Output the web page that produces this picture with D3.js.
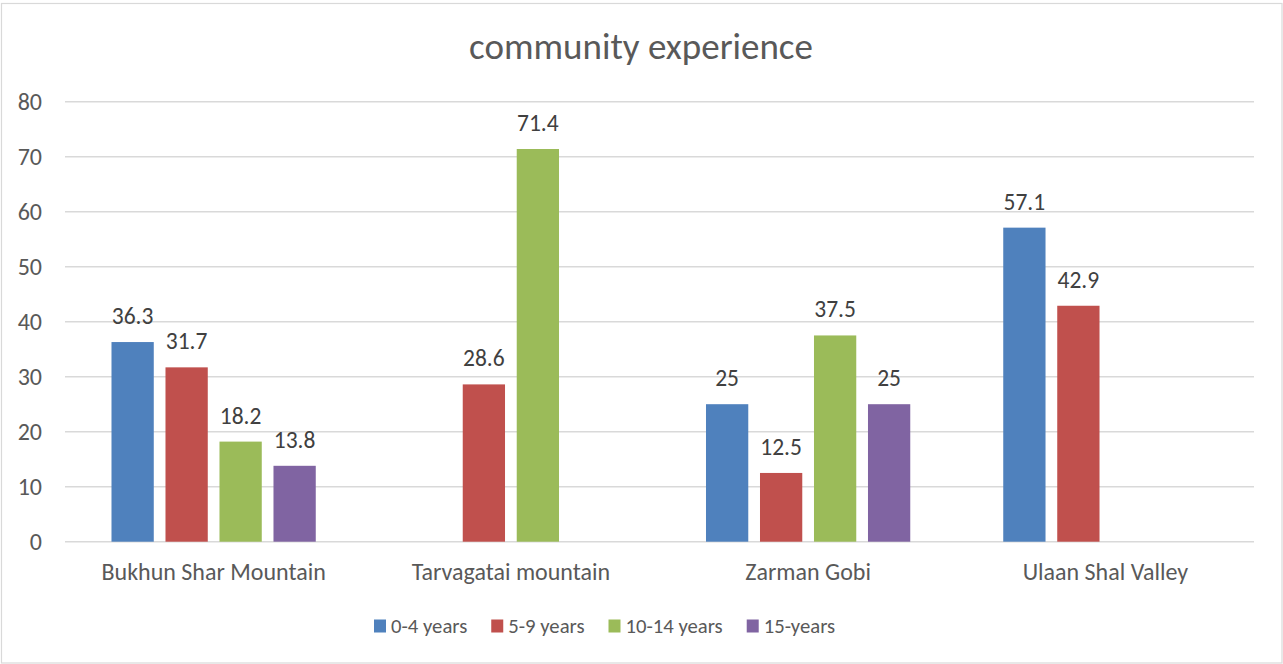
<!DOCTYPE html>
<html>
<head>
<meta charset="utf-8">
<script src="https://cdn.jsdelivr.net/npm/d3@7"></script>
<style>
  html, body { margin: 0; padding: 0; background: #fff; }
  svg { display: block; font-family: Carlito, "Open Sans", sans-serif; }
</style>
</head>
<body>
<svg id="chart" width="1283" height="664"></svg>
<script>
// Data
const categories = ["Bukhun Shar Mountain", "Tarvagatai mountain", "Zarman Gobi", "Ulaan Shal Valley"];
const seriesNames = ["0-4 years", "5-9 years", "10-14 years", "15-years"];
const seriesColors = ["#4F81BD", "#C0504D", "#9BBB59", "#8064A2"];
// one array per series, aligned with categories (null = no bar)
const years0to4   = [36.3, null, 25,   57.1];
const years5to9   = [31.7, 28.6, 12.5, 42.9];
const years10to14 = [18.2, 71.4, 37.5, null];
const years15plus = [13.8, null, 25,   null];
const yTicks = [0, 10, 20, 30, 40, 50, 60, 70, 80];
const chartTitle = "community experience";

const seriesValues = [years0to4, years5to9, years10to14, years15plus];

const FONT = 'Carlito, "Open Sans", sans-serif';
const svg = d3.select("#chart");
const W = 1283, H = 664;
const plot = { left: 65, right: 1254, top: 101.7, bottom: 541.7 };

// outer frame
svg.append("rect")
  .attr("x", 1.5).attr("y", 3.5)
  .attr("width", W - 2.5).attr("height", H - 4.5)
  .attr("fill", "#fff").attr("stroke", "#d9d9d9").attr("stroke-width", 1.2);

// title
svg.append("text")
  .attr("x", 641).attr("y", 59)
  .attr("text-anchor", "middle")
  .attr("font-size", 37)
  .attr("fill", "#595959")
  .text(chartTitle);

const y = d3.scaleLinear().domain([0, 80]).range([plot.bottom, plot.top]);
const x0 = d3.scaleBand().domain(categories).range([plot.left, plot.right]).padding(0);
const x1 = d3.scaleBand().domain(seriesNames).range([0, x0.bandwidth()])
  .paddingInner(0.217).paddingOuter(0.861);

// gridlines
svg.append("g")
  .selectAll("line")
  .data(yTicks)
  .join("line")
  .attr("x1", plot.left).attr("x2", plot.right)
  .attr("y1", d => y(d)).attr("y2", d => y(d))
  .attr("stroke", "#d9d9d9").attr("stroke-width", 1.5);

// y axis labels
const yAxis = d3.axisLeft(y).tickValues(yTicks).tickSize(0).tickPadding(0);
const yg = svg.append("g").attr("transform", `translate(42,0)`).call(yAxis);
yg.select(".domain").remove();
yg.selectAll("text")
  .attr("font-size", 24).attr("fill", "#595959")
  .attr("font-family", FONT)
  .attr("dy", "0.34em");

// x axis category labels
const xAxis = d3.axisBottom(x0).tickSize(0).tickPadding(0);
const xg = svg.append("g").attr("transform", `translate(0,${plot.bottom})`).call(xAxis);
xg.select(".domain").remove();
xg.selectAll("text")
  .attr("font-size", 24).attr("fill", "#595959")
  .attr("font-family", FONT)
  .attr("dy", null)
  .attr("y", 38.5);

// bars
const flat = [];
categories.forEach((c, ci) => {
  seriesNames.forEach((s, si) => {
    const v = seriesValues[si][ci];
    if (v !== null) flat.push({ cat: c, series: s, si, value: v });
  });
});

const groups = svg.append("g");
groups.selectAll("rect")
  .data(flat)
  .join("rect")
  .attr("x", d => x0(d.cat) + x1(d.series))
  .attr("y", d => y(d.value))
  .attr("width", x1.bandwidth())
  .attr("height", d => y(0) - y(d.value))
  .attr("fill", d => seriesColors[d.si]);

// value labels
groups.selectAll("text")
  .data(flat)
  .join("text")
  .attr("x", d => x0(d.cat) + x1(d.series) + x1.bandwidth() / 2)
  .attr("y", d => y(d.value) - 18)
  .attr("text-anchor", "middle")
  .attr("font-size", 23.5)
  .attr("fill", "#404040")
  .text(d => d.value);

// legend
const legend = svg.append("g");
const legendY = 626;
let lx = 374;
seriesNames.forEach((s, i) => {
  const g = legend.append("g");
  g.append("rect")
    .attr("x", lx).attr("y", legendY - 6.5)
    .attr("width", 12).attr("height", 13)
    .attr("fill", seriesColors[i]);
  const t = g.append("text")
    .attr("x", lx + 17).attr("y", legendY + 7)
    .attr("font-size", 20.7)
    .attr("fill", "#595959")
    .text(s);
  lx += 17 + t.node().getComputedTextLength() + 24;
});
</script>
</body>
</html>
